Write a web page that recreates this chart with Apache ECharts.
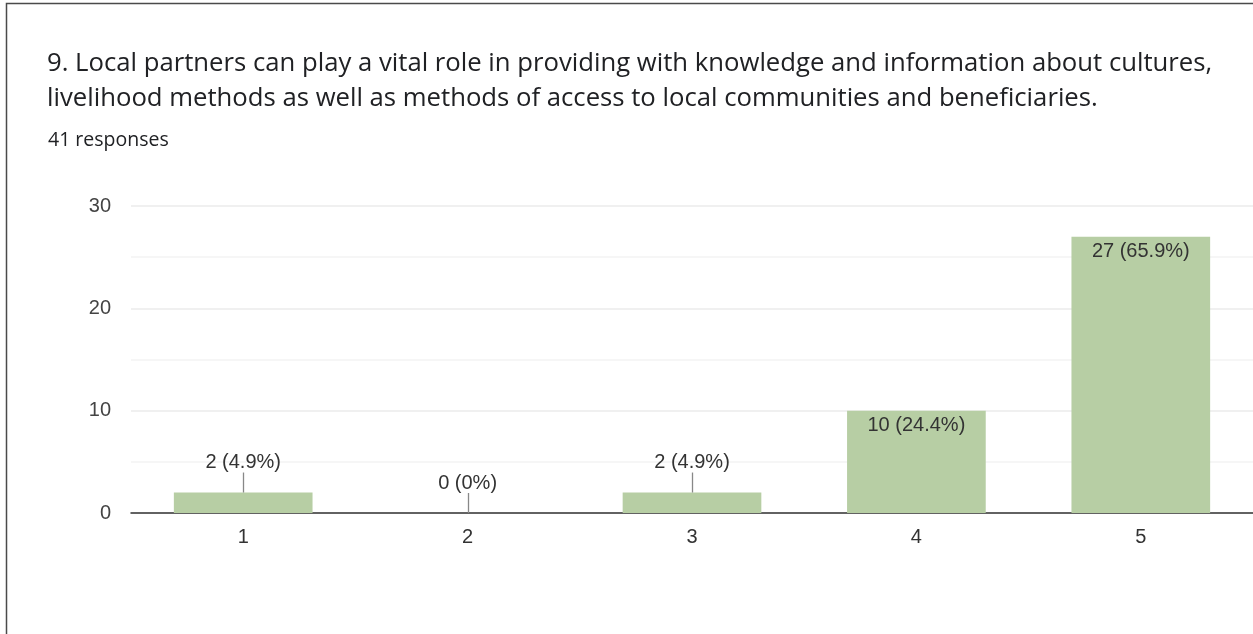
<!DOCTYPE html>
<html>
<head>
<meta charset="utf-8">
<script src="https://cdn.jsdelivr.net/npm/echarts@6/dist/echarts.min.js"></script>
<style>
  html, body { margin: 0; padding: 0; background: #fff; }
  #chart { width: 1253px; height: 634px; }
</style>
</head>
<body>
<div id="chart"></div>
<script>
// Survey question 9: rating distribution on a 1-5 scale
const questionLines = [
  '9. Local partners can play a vital role in providing with knowledge and information about cultures,',
  'livelihood methods as well as methods of access to local communities and beneficiaries.'
];
const totalResponses = 41;
const categories = ['1', '2', '3', '4', '5'];
const counts = [2, 0, 2, 10, 27];
const yTicks = [0, 10, 20, 30];

// Bars shorter than this get their label above the bar with a leader line
const insideThreshold = 5;

function pctText(v) {
  const p = Math.round(v / totalResponses * 1000) / 10;
  return v + ' (' + p + '%)';
}

const chart = echarts.init(document.getElementById('chart'), null, { renderer: 'canvas' });

const labelFont = '"Liberation Sans", Arial, sans-serif';
const titleFont = '"Open Sans", Roboto, sans-serif';

chart.setOption({
  animation: false,
  backgroundColor: '#ffffff',
  graphic: [
    {
      type: 'rect',
      shape: { x: 6.5, y: 3.5, width: 1400, height: 800 },
      style: { fill: null, stroke: '#4a4a4a', lineWidth: 1.5 },
      silent: true
    },
    {
      type: 'text',
      style: {
        x: 47, y: 64, text: questionLines[0],
        font: '25.7px ' + titleFont,
        fill: '#202124', verticalAlign: 'middle'
      }
    },
    {
      type: 'text',
      style: {
        x: 47, y: 99, text: questionLines[1],
        font: '25.7px ' + titleFont,
        fill: '#202124', verticalAlign: 'middle'
      }
    },
    {
      type: 'text',
      style: {
        x: 48, y: 140, text: totalResponses + ' responses',
        font: '19.5px ' + titleFont,
        fill: '#202124', verticalAlign: 'middle'
      }
    }
  ],
  grid: { left: 131, right: 0, top: 206, bottom: 121, containLabel: false },
  xAxis: {
    type: 'category',
    data: categories,
    axisLine: { show: true, lineStyle: { color: '#333333', width: 1.5 } },
    axisTick: { show: false },
    axisLabel: { color: '#333333', fontSize: 20, fontFamily: labelFont, margin: 14 },
    splitLine: { show: false }
  },
  yAxis: {
    type: 'value',
    min: yTicks[0],
    max: yTicks[yTicks.length - 1],
    interval: 10,
    axisLine: { show: false },
    axisTick: { show: false },
    axisLabel: { color: '#444444', fontSize: 20, fontFamily: labelFont, margin: 20 },
    splitLine: { lineStyle: { color: '#ebebeb', width: 1.5 } },
    minorTick: { show: false, splitNumber: 2 },
    minorSplitLine: { show: true, lineStyle: { color: '#f4f4f4', width: 1.5 } }
  },
  series: [
    {
      type: 'bar',
      data: counts,
      barWidth: '61.8%',
      itemStyle: { color: '#b7cea4' },
      label: {
        show: true,
        position: 'insideTop',
        distance: 5,
        color: '#333333',
        fontSize: 20,
        fontFamily: labelFont,
        formatter: p => (p.value >= insideThreshold ? pctText(p.value) : '')
      },
      z: 2
    },
    {
      // leader line + label for short bars
      type: 'custom',
      data: counts.map((v, i) => [i, v]),
      z: 3,
      renderItem: function (params, api) {
        const v = api.value(1);
        if (v >= insideThreshold) return null;
        const pt = api.coord([api.value(0), v]);
        const x = Math.round(pt[0]) + 0.5;
        return {
          type: 'group',
          children: [
            {
              type: 'line',
              shape: { x1: x, y1: pt[1], x2: x, y2: pt[1] - 20 },
              style: { stroke: '#888888', lineWidth: 1.3 }
            },
            {
              type: 'text',
              style: {
                x: pt[0], y: pt[1] - 30,
                text: pctText(v),
                font: '20px ' + labelFont,
                fill: '#333333',
                align: 'center',
                verticalAlign: 'middle'
              }
            }
          ]
        };
      }
    }
  ]
});
</script>
</body>
</html>
